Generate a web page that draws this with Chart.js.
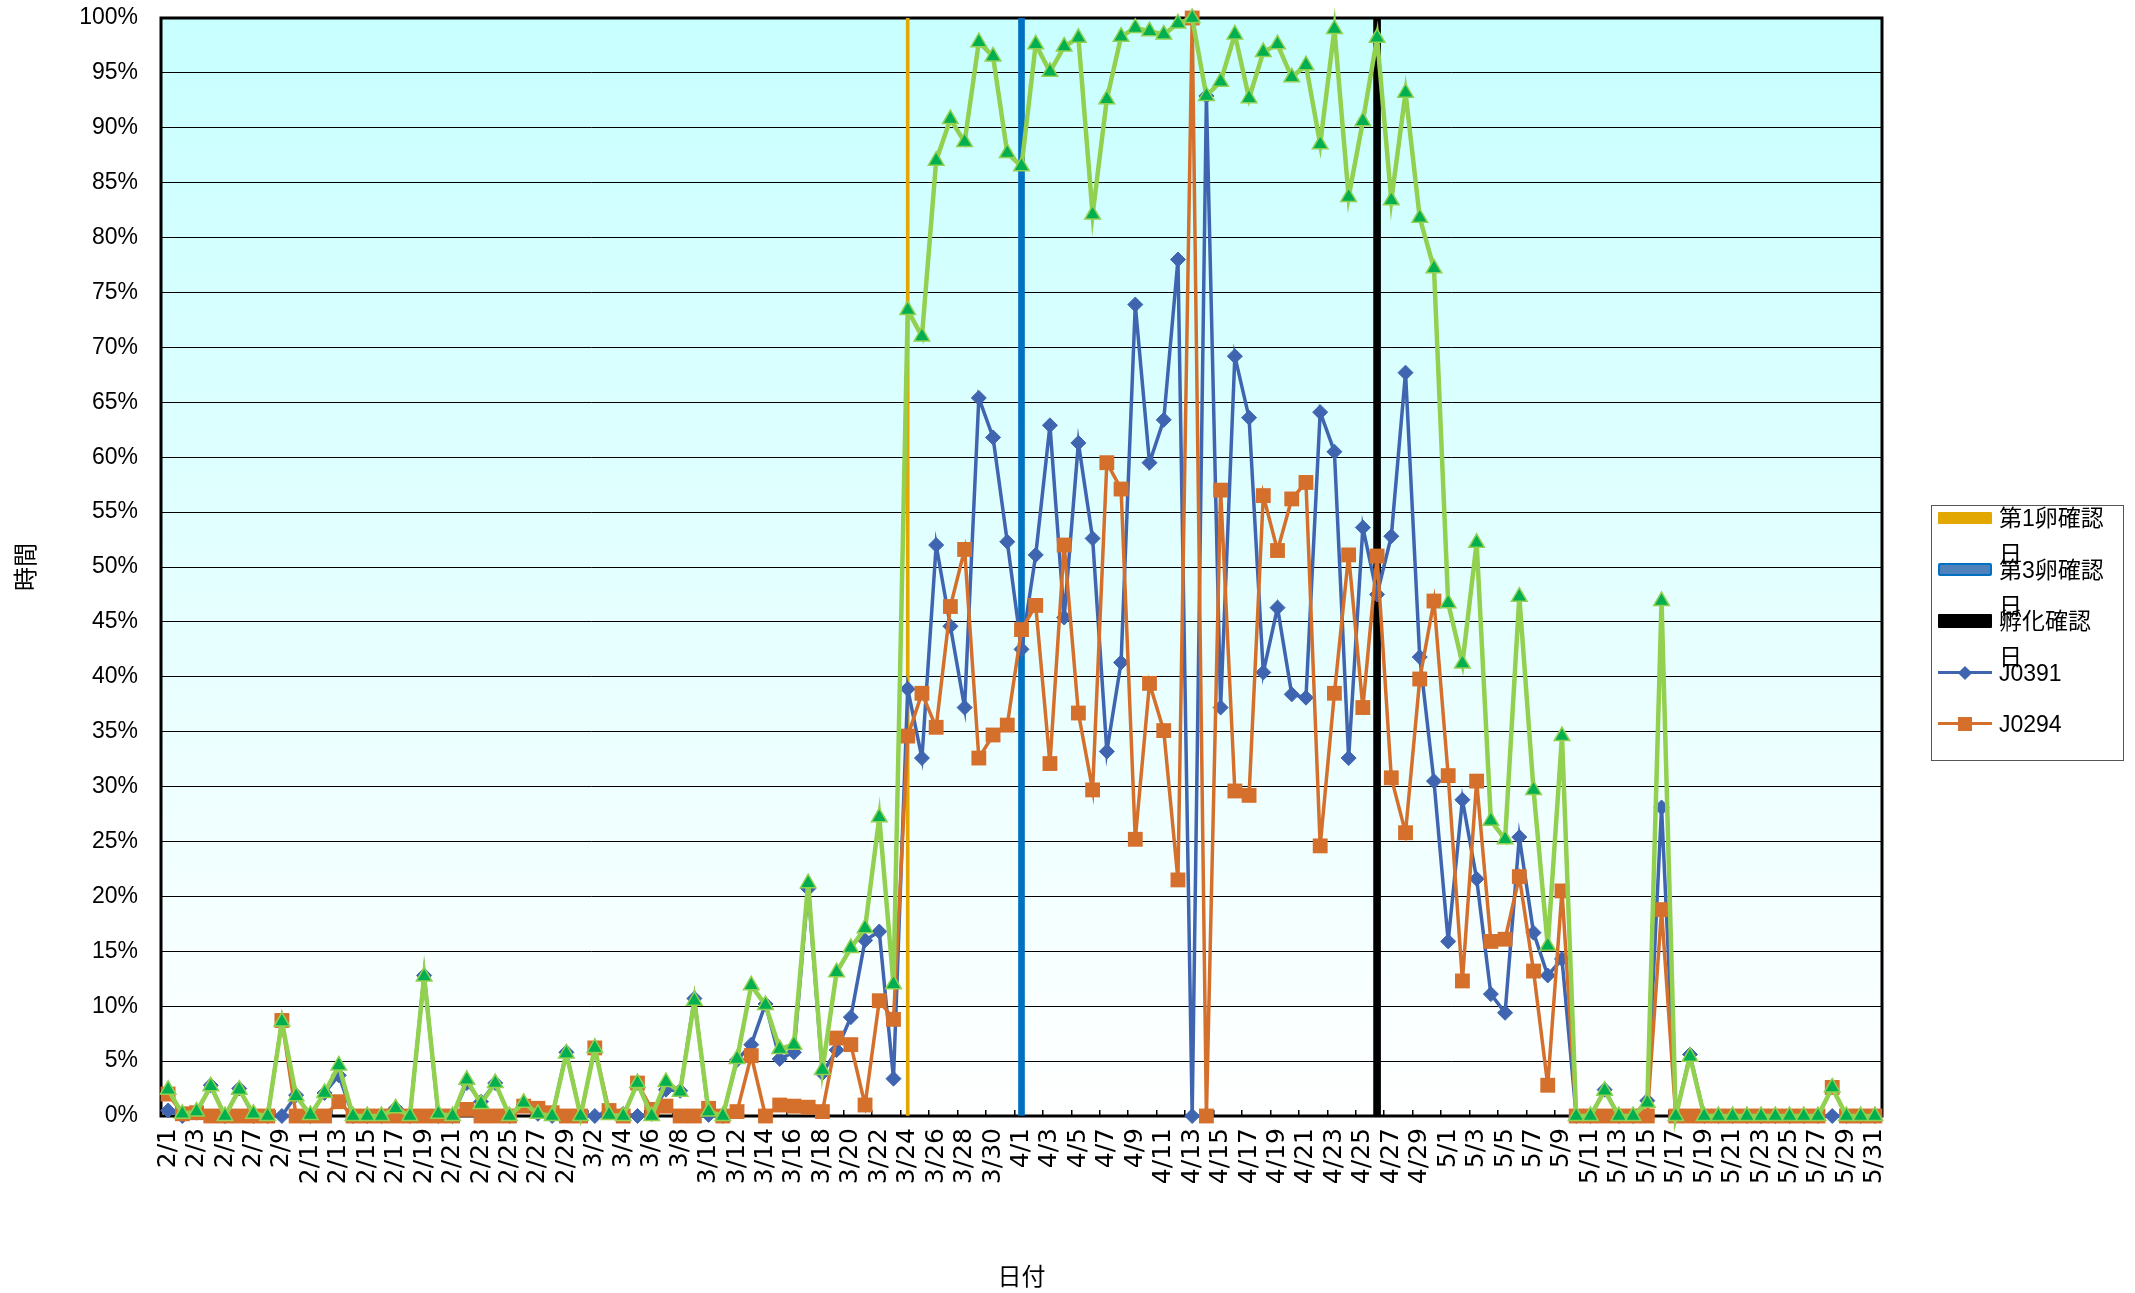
<!DOCTYPE html>
<html lang="ja">
<head>
<meta charset="utf-8">
<title>chart</title>
<script src="https://cdn.jsdelivr.net/npm/chart.js@4.4.1/dist/chart.umd.min.js"></script>
<style>
  html, body { margin: 0; padding: 0; background: #fff; }
  #wrap { position: relative; width: 2135px; height: 1293px; }
  #legend {
    position: absolute; left: 1931px; top: 505px; width: 193px; height: 256px;
    box-sizing: border-box; border: 1.5px solid #555; background: #fff;
    font-family: "Liberation Sans", "Noto Sans CJK JP", sans-serif; font-size: 23px; color: #000;
  }
  .item { position: absolute; left: 6px; height: 36px; width: 180px; }
  .sw { position: absolute; left: 0; width: 54px; box-sizing: border-box; }
  .mk { position: absolute; box-sizing: border-box; }
  .txt { position: absolute; left: 61px; top: 0; width: 110px; line-height: 36px; }
</style>
</head>
<body>
<div id="wrap">
  <canvas id="c" width="2135" height="1293"></canvas>
  <div id="legend"></div>
</div>
<script>
// categories: every day from 2/1 to 5/31
const months = [2, 3, 4, 5];
const daysInMonth = [29, 31, 30, 31];
const dates = [];
months.forEach((m, k) => {
  for (let d = 1; d <= daysInMonth[k]; d++) dates.push(m + '/' + d);
});

const seriesNames = ['J0391', 'J0294', '合計'];

// values in %, one per day
const j0391 = [
  // Feb
  0.5, 0, 0.3, 2.8, 0, 2.5, 0, 0, 0, 1.9, 0, 2.1, 3.7, 0, 0, 0, 0.7, 0, 12.8, 0,
  0, 3.0, 1.3, 3.0, 0, 1.0, 0.2, 0, 5.8,
  // Mar
  0, 0, 0.4, 0.2, 0, 0.2, 2.4, 2.3, 10.7, 0.1, 0, 5.1, 6.5, 10.2, 5.2, 5.8, 20.7, 3.9, 6.0, 9.0,
  16.0, 16.8, 3.4, 38.9, 32.6, 52.0, 44.6, 37.2, 65.4, 61.8, 52.3,
  // Apr
  42.5, 51.1, 62.9, 45.4, 61.3, 52.6, 33.2, 41.3, 73.9, 59.5, 63.4, 78.0, 0, 92.9, 37.2, 69.2, 63.6, 40.4, 46.3, 38.4,
  38.1, 64.1, 60.5, 32.6, 53.6, 47.5, 52.8, 67.7, 41.8, 30.5,
  // May
  15.9, 28.8, 21.6, 11.1, 9.4, 25.4, 16.7, 12.8, 14.3, 0, 0, 2.4, 0, 0, 1.4, 28.1, 0, 5.6, 0, 0,
  0, 0, 0, 0, 0, 0, 0, 0, 0, 0, 0
];
const j0294 = [
  // Feb
  2.0, 0.2, 0.3, 0, 0, 0, 0, 0, 8.7, 0, 0, 0, 1.3, 0, 0, 0, 0, 0, 0, 0,
  0, 0.6, 0, 0, 0, 0.9, 0.7, 0.3, 0,
  // Mar
  0, 6.2, 0.5, 0, 3.0, 0.6, 0.9, 0, 0, 0.7, 0, 0.4, 5.5, 0, 1.0, 0.9, 0.8, 0.4, 7.1, 6.5,
  1.0, 10.5, 8.8, 34.6, 38.5, 35.4, 46.4, 51.6, 32.6, 34.7, 35.6,
  // Apr
  44.3, 46.5, 32.1, 52.0, 36.7, 29.7, 59.5, 57.1, 25.2, 39.4, 35.1, 21.5, 100, 0, 57.0, 29.6, 29.2, 56.5, 51.5, 56.2,
  57.7, 24.6, 38.5, 51.1, 37.2, 51.0, 30.8, 25.8, 39.8, 46.9,
  // May
  31.0, 12.3, 30.5, 15.9, 16.1, 21.8, 13.2, 2.8, 20.5, 0, 0, 0, 0, 0, 0, 18.8, 0, 0, 0, 0,
  0, 0, 0, 0, 0, 0, 0, 2.6, 0, 0, 0
];
const total = [
  // Feb
  2.4, 0.2, 0.4, 2.7, 0, 2.4, 0.2, 0, 8.6, 1.8, 0.1, 2.1, 4.6, 0, 0, 0, 0.7, 0, 12.7, 0.2,
  0, 3.3, 1.1, 3.0, 0, 1.2, 0.2, 0, 5.7,
  // Mar
  0, 6.2, 0.1, 0, 3.0, 0, 3.1, 2.2, 10.5, 0.4, 0, 5.2, 11.9, 10.1, 6.1, 6.5, 21.2, 4.2, 13.1, 15.3,
  17.1, 27.2, 12.0, 73.4, 71.0, 87.0, 90.8, 88.7, 97.8, 96.5, 87.7,
  // Apr
  86.5, 97.6, 95.1, 97.4, 98.2, 82.1, 92.6, 98.3, 99.1, 98.8, 98.5, 99.5, 100, 92.9, 94.2, 98.5, 92.7, 96.9, 97.6, 94.6,
  95.7, 88.5, 99.0, 83.7, 90.6, 98.2, 83.4, 93.2, 81.8, 77.2,
  // May
  46.7, 41.2, 52.2, 26.9, 25.2, 47.3, 29.7, 15.5, 34.6, 0, 0, 2.3, 0, 0, 1.2, 46.9, 0, 5.4, 0, 0,
  0, 0, 0, 0, 0, 0, 0, 2.6, 0, 0, 0
];

// marker days drawn as vertical bars
const markerNames = ['第1卵確認日', '第3卵確認日', '孵化確認日'];
const markerDates = ['3/24', '4/1', '4/26'];

const blue = '#3F65B1', orange = '#D5702C', green = '#92D050', greenFill = '#00B050';
const markerColors = ['#E2A700', '#0070C0', '#000000'];
const markerWidths = [3, 6, 7];

const barSets = markerNames.map((name, k) => ({
  type: 'bar',
  label: name,
  data: dates.map(d => d === markerDates[k] ? 100 : null),
  backgroundColor: markerColors[k],
  borderWidth: 0,
  barThickness: markerWidths[k],
  grouped: false,
  order: 10
}));

const lineSets = [
  { label: seriesNames[0], data: j0391, borderColor: blue, backgroundColor: blue, borderWidth: 3.5,
    pointStyle: 'rectRot', pointRadius: 7.5, pointBorderWidth: 1, pointBorderColor: blue, order: 3, clip: false },
  { label: seriesNames[1], data: j0294, borderColor: orange, backgroundColor: orange, borderWidth: 3.5,
    pointStyle: 'rect', pointRadius: 10.5, pointBorderWidth: 0, order: 2, clip: false },
  { label: seriesNames[2], data: total, borderColor: green, backgroundColor: greenFill, borderWidth: 4.5,
    pointStyle: 'triangle', pointRadius: 9, pointBorderWidth: 1.5, pointBorderColor: green, order: 1, clip: false }
];

const plotFrame = {
  id: 'plotFrame',
  beforeDraw(chart) {
    const { ctx, chartArea: a } = chart;
    const g = ctx.createLinearGradient(0, a.top, 0, a.bottom);
    g.addColorStop(0, '#c8ffff');
    g.addColorStop(1, '#ffffff');
    ctx.save();
    ctx.fillStyle = g;
    ctx.fillRect(a.left, a.top, a.right - a.left, a.bottom - a.top);
    ctx.restore();
  },
  beforeDatasetsDraw(chart) {
    const { ctx, chartArea: a } = chart;
    ctx.save();
    ctx.strokeStyle = '#000';
    ctx.lineWidth = 3;
    ctx.strokeRect(a.left, a.top, a.right - a.left, a.bottom - a.top);
    ctx.restore();
  }
};

const latin = '"Liberation Sans", "Noto Sans CJK JP", sans-serif';
const cjk = '"Noto Sans CJK JP", sans-serif';

const chart = new Chart(document.getElementById('c'), {
  type: 'line',
  data: { labels: dates, datasets: [...barSets, ...lineSets] },
  options: {
    responsive: false,
    animation: false,
    events: [],
    layout: { padding: { top: 18, right: 253, bottom: 0, left: 0 } },
    plugins: { legend: { display: false }, tooltip: { enabled: false } },
    scales: {
      x: {
        offset: true,
        grid: {
          display: true, offset: true, drawOnChartArea: false, drawTicks: true, tickLength: -6, lineWidth: 1.5,
          color: c => c.index % 2 === 0 ? '#000' : 'rgba(0,0,0,0)'
        },
        border: { display: false },
        ticks: {
          autoSkip: false, maxRotation: 90, minRotation: 90, padding: 18,
          color: '#000', font: { family: '"DejaVu Sans", sans-serif', size: 25 },
          callback: function (v, i) { return i % 2 === 0 ? this.getLabelForValue(v) : ''; }
        },
        title: { display: true, text: '日付', color: '#000', font: { family: cjk, size: 24 }, padding: { top: 0, bottom: 3 } },
        afterFit: s => { s.height = 177; s.paddingTop = 0; s.paddingBottom = 0; }
      },
      y: {
        min: 0, max: 100,
        grid: { color: '#000', lineWidth: 1, drawTicks: false },
        border: { display: false },
        ticks: { stepSize: 5, padding: 23, color: '#000', font: { family: latin, size: 23 }, callback: v => v + '%' },
        title: { display: true, text: '時間', color: '#000', font: { family: cjk, size: 24 }, padding: { top: 10, bottom: 0 } },
        afterFit: s => { s.width = 161; s.paddingTop = 0; s.paddingBottom = 0; }
      }
    }
  },
  plugins: [plotFrame]
});

// legend (the green series has no entry, as in the original)
const legend = document.getElementById('legend');
const entries = chart.data.datasets.filter(ds => ds.label !== seriesNames[2]);
entries.forEach((ds, k) => {
  const item = document.createElement('div');
  item.className = 'item';
  item.style.top = (12.3 + 51.4 * k - 18) + 'px';
  let sw = '';
  if (ds.type === 'bar') {
    const h = [12, 13, 14][k];
    const extra = k === 1 ? 'background:#4F81BD;border:2.5px solid ' + ds.backgroundColor + ';border-radius:2px;'
                          : 'background:' + ds.backgroundColor + ';border-radius:1px;';
    sw = `<div class="sw" style="top:${18 - h / 2}px;height:${h}px;${extra}"></div>`;
  } else {
    const c = ds.borderColor;
    const mk = ds.pointStyle === 'rect'
      ? `<div class="mk" style="left:20px;top:11px;width:14px;height:14px;background:${c}"></div>`
      : `<div class="mk" style="left:22px;top:13px;width:10px;height:10px;background:${c};transform:rotate(45deg)"></div>`;
    sw = `<div class="sw" style="top:16.5px;height:3px;background:${c}"></div>` + mk;
  }
  item.innerHTML = sw + `<div class="txt">${ds.label}</div>`;
  legend.appendChild(item);
});
</script>
</body>
</html>
